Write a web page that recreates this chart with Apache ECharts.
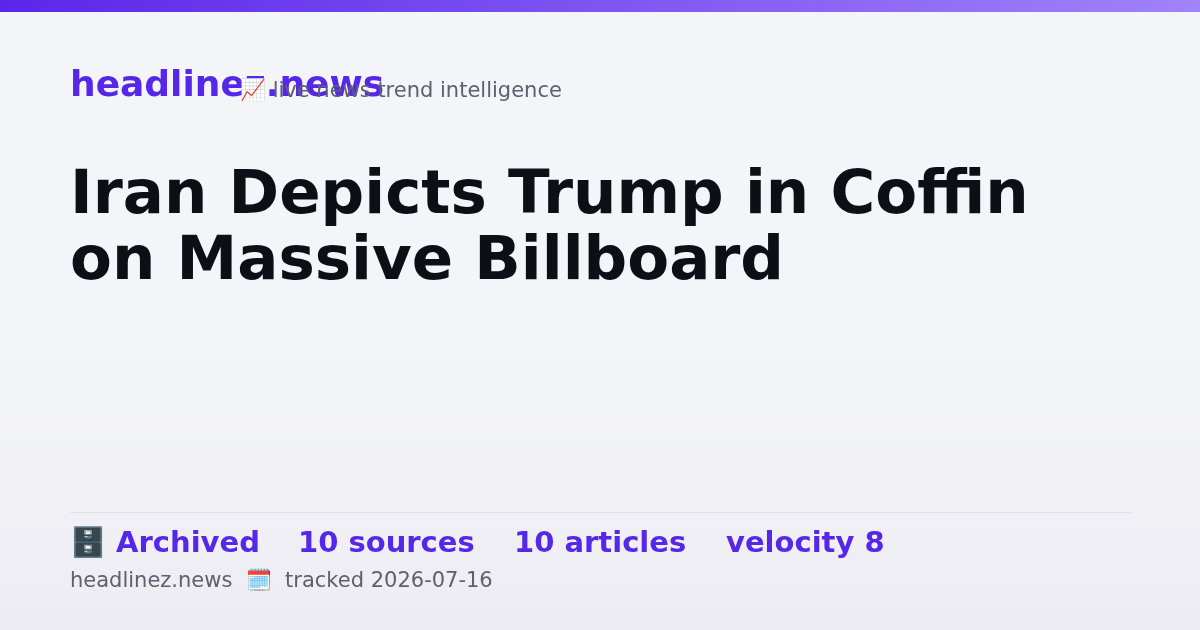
<!DOCTYPE html>
<html><head><meta charset="utf-8">
<script src="https://cdn.jsdelivr.net/npm/echarts@6/dist/echarts.min.js"></script>
<style>html,body{margin:0;padding:0}#c{width:1200px;height:630px}</style>
</head><body><div id="c"></div>
<script>
const brand = "headlinez.news";
const tagline = "📈 live news trend intelligence";
const titleLines = ["Iran Depicts Trump in Coffin", "on Massive Billboard"];
const stats = ["🗄️ Archived", "10 sources", "10 articles", "velocity 8"];
const statX = [70, 298, 514, 726];
const footer = "headlinez.news  🗓️  tracked 2026-07-16";
const F = "DejaVu Sans, sans-serif";
const chart = echarts.init(document.getElementById('c'));
const M = 'middle';
const g = [
  {type:'rect', shape:{x:0,y:0,width:1200,height:630}, style:{fill:new echarts.graphic.LinearGradient(0,0,0,1,[{offset:0,color:'#f4f5f9'},{offset:0.55,color:'#f4f5f9'},{offset:1,color:'#edecf2'}])}},
  {type:'rect', shape:{x:0,y:0,width:1200,height:12}, style:{fill:new echarts.graphic.LinearGradient(0,0,1,0,[{offset:0,color:'#5b26ea'},{offset:1,color:'#a183fb'}])}},
  {type:'text', x:70, y:87, style:{text:brand, font:'bold 36px '+F, fill:'#5627e8', textVerticalAlign:M}},
  {type:'text', x:240, y:92, style:{text:tagline, font:'21px '+F, fill:'#5c6070', textVerticalAlign:M}},
  {type:'rect', shape:{x:70,y:512,width:1061,height:1}, style:{fill:'#e1e1e8'}},
  {type:'text', x:70, y:582, style:{text:footer, font:'21px '+F, fill:'#5c6070', textVerticalAlign:M}}
];
titleLines.forEach((t,i)=>g.push({type:'text', x:70, y:197+i*66, style:{text:t, font:'bold 61px '+F, fill:'#0d0f17', textVerticalAlign:M}}));
stats.forEach((t,i)=>g.push({type:'text', x:statX[i], y:544, style:{text:t, font:'bold 29px '+F, fill:'#5627e8', textVerticalAlign:M}}));
chart.setOption({animation:false, graphic:g});
</script></body></html>
